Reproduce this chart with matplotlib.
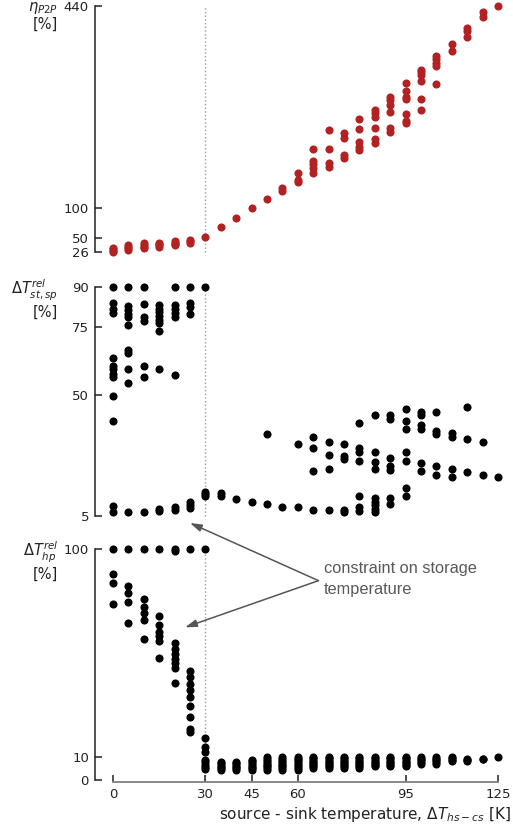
import matplotlib
matplotlib.use("Agg")
import matplotlib.pyplot as plt

# source - sink temperature difference [K]
delta_t = [0, 5, 10, 15, 20, 25, 30, 35, 40, 45, 50, 55, 60, 65, 70, 75, 80,
           85, 90, 95, 100, 105, 110, 115, 120, 125]

# power-to-power efficiency [%], one list of runs per temperature step
eta_p2p = [
    [26, 28.5, 31, 33.5],
    [30, 32.5, 35, 37],
    [32, 35, 38, 41],
    [34.5, 37, 39, 41],
    [37, 39.5, 42, 44],
    [42, 44, 46],
    [51],
    [67.5],
    [83.5],
    [100],
    [115.5],
    [129, 133],
    [143, 147, 159],
    [158.5, 167, 174, 180, 199.5],
    [169.5, 176.5, 199.5, 231.5],
    [183.5, 189.5, 218.5, 226],
    [197.5, 203, 210.5, 233.5, 249.5],
    [210, 215.5, 235, 254, 259.5, 265],
    [228.5, 234, 262, 273.5, 282, 287.5],
    [242.5, 246.5, 258.5, 283.5, 287.5, 297.5, 310],
    [265.5, 284, 313, 323.5, 329, 333],
    [308, 339, 344.5, 350.5, 356],
    [365, 376],
    [387, 398, 403.5],
    [421.5, 429.5],
    [440],
]

# relative storage temperature spread [%]
dt_st_sp = [
    [90, 84, 82, 80.5, 63.6, 60.8, 59.5, 57.8, 56.5, 49.5, 40.3, 8.5, 6.2],
    [90, 83, 81.5, 80, 78.7, 75.7, 66.6, 65.6, 59.5, 54.5, 6.3],
    [90, 83.7, 78.8, 77.4, 60.7, 56.4, 6.3],
    [83.2, 82, 80.6, 79.2, 77.9, 76.6, 73.8, 59.5, 6.6, 7.6],
    [90, 83.2, 81.8, 80.4, 79, 57.3, 7.2, 8.2],
    [90, 84, 82.7, 80, 7.8, 9, 10.2],
    [90, 12.3, 13.1, 13.9],
    [12.3, 13.3],
    [11.1],
    [10.1],
    [35.5, 9.2],
    [8.1],
    [31.5, 8.1],
    [34.4, 30.3, 21.5, 7.3],
    [32.3, 27.4, 22.4, 7.3],
    [31.5, 27.3, 26.1, 6.2, 7.1],
    [39.3, 30.3, 28.5, 25.4, 12.2, 8.4, 6.9],
    [42.4, 28.5, 24.8, 22.5, 11.5, 10.2, 9.0, 7.6, 6.5],
    [42.4, 41.1, 26.4, 23.3, 22.0, 11.5, 9.5],
    [44.5, 40.3, 37.3, 28.5, 25.4, 15.2, 12.2],
    [43.5, 42.3, 38.7, 37.4, 24.6, 21.6],
    [43.4, 36.5, 35.3, 23.3, 20.2],
    [35.6, 34.4, 22.4, 19.3],
    [45.5, 33.4, 21.4],
    [32.3, 20.2],
    [19.3],
]

# relative heat pump temperature lift [%]
dt_hp = [
    [100, 89.0, 85.1, 76.2],
    [100, 84.1, 81.1, 77.2, 68.1],
    [100, 78.2, 75.0, 72.2, 69.3, 61.0],
    [100, 71.1, 67.1, 64.2, 62.3, 60.3, 52.9],
    [100, 99, 59.2, 56.8, 54.6, 52.5, 50.6, 48.7, 41.9],
    [100, 47.3, 44.7, 41.5, 38.9, 36.1, 32.0, 27.1, 21.9, 20.9],
    [100, 18.0, 14.4, 12.0, 8.6, 7.6, 6.6, 5.6, 4.8],
    [4.3, 5.0, 5.8, 6.5, 7.2, 7.8],
    [4.3, 5.0, 5.8, 6.5, 7.2, 7.8],
    [4.3, 5.0, 5.8, 6.6, 7.4, 8.1, 8.8],
    [4.3, 5.1, 5.9, 6.7, 7.5, 8.3, 9.1, 9.9],
    [4.3, 5.1, 5.9, 6.7, 7.5, 8.3, 9.1, 9.9],
    [4.5, 5.3, 6.1, 6.9, 7.7, 8.5, 9.2, 9.9],
    [5.2, 5.9, 6.6, 7.3, 8.0, 8.7, 9.4, 10.0],
    [5.2, 5.9, 6.6, 7.3, 8.0, 8.7, 9.4, 10.0],
    [5.2, 5.9, 6.6, 7.3, 8.0, 8.7, 9.4, 10.0],
    [5.2, 5.9, 6.6, 7.3, 8.0, 8.7, 9.4, 10.0],
    [5.9, 6.6, 7.3, 8.0, 8.7, 9.4, 10.0],
    [5.9, 6.6, 7.3, 8.0, 8.7, 9.4, 10.0],
    [5.9, 6.6, 7.3, 8.0, 8.7, 9.4, 10.0],
    [7.1, 7.8, 8.5, 9.3, 10.0],
    [7.1, 7.8, 8.5, 9.3, 10.0],
    [8.1, 8.8, 9.5, 10.1],
    [8.1, 8.7, 9.3],
    [8.9, 9.3],
    [10.0],
]

x_ticks = [0, 30, 45, 60, 95, 125]
eta_ticks = [26, 50, 100, 440]
st_sp_ticks = [5, 50, 75, 90]
hp_ticks = [0, 10, 100]
x_limit = 30

W, H = 513, 836
fig = plt.figure(figsize=(W / 100, H / 100), dpi=100)


def add_panel(left, top, right, bottom):
    return fig.add_axes([left / W, 1 - bottom / H, (right - left) / W, (bottom - top) / H])


ax_eta = add_panel(94.5, 2.4, 504.2, 255.6)
ax_st = add_panel(94.5, 281.6, 504.2, 523.8)
ax_hp = add_panel(94.5, 544.4, 504.2, 782.3)


def flatten(cols):
    xs, ys = [], []
    for x, vals in zip(delta_t, cols):
        xs += [x] * len(vals)
        ys += vals
    return xs, ys


panels = [
    (ax_eta, eta_p2p, eta_ticks, (20, 446), "#b22222"),
    (ax_st, dt_st_sp, st_sp_ticks, (2, 92), "black"),
    (ax_hp, dt_hp, hp_ticks, (-1, 102), "black"),
]

for ax, cols, ticks, ylim, color in panels:
    xs, ys = flatten(cols)
    ax.scatter(xs, ys, s=34, color=color, linewidths=0, zorder=3, clip_on=False)
    ax.vlines(x_limit, ticks[0], ticks[-1], colors="#9a9a9a", linestyles=":", lw=1, zorder=1)
    ax.set_xlim(-6, 127)
    ax.set_ylim(*ylim)
    ax.set_yticks(ticks)
    ax.spines["left"].set_bounds(ticks[0], ticks[-1])
    ax.spines["left"].set_color("#222222")
    ax.spines["left"].set_linewidth(1.1)
    for side in ["top", "right"]:
        ax.spines[side].set_visible(False)
    ax.tick_params(axis="y", direction="in", length=5, width=1.1, labelsize=9.5,
                   colors="#222222", pad=4)
    ax.patch.set_alpha(0)

for ax in (ax_eta, ax_st):
    ax.spines["bottom"].set_visible(False)
    ax.set_xticks([])

ax_hp.set_xticks(x_ticks)
ax_hp.spines["bottom"].set_bounds(0, 125)
ax_hp.spines["bottom"].set_color("#808080")
ax_hp.spines["bottom"].set_linewidth(1.3)
ax_hp.tick_params(axis="x", direction="in", length=5, width=1.1, labelsize=9.5,
                  colors="#222222", pad=4)

# axis titles
lab = dict(ha="right", va="center", fontsize=10.5, color="#222222")
fig.text(58 / W, 1 - 8 / H, r"$\eta_{P2P}$", **lab)
fig.text(58 / W, 1 - 24 / H, "[%]", **lab)
fig.text(58 / W, 1 - 290 / H, r"$\Delta T^{rel}_{st,sp}$", **lab)
fig.text(58 / W, 1 - 312 / H, "[%]", **lab)
fig.text(58 / W, 1 - 552 / H, r"$\Delta T^{rel}_{hp}$", **lab)
fig.text(58 / W, 1 - 574 / H, "[%]", **lab)
fig.text(511 / W, 1 - 815 / H, r"source - sink temperature, $\Delta T_{hs-cs}$ [K]",
         ha="right", va="center", fontsize=11, color="#222222")

# annotation pointing at both storage-limited regions
arrow = dict(arrowstyle="-|>,head_length=0.7,head_width=0.22", color="#555555",
             lw=1.1, shrinkA=0, shrinkB=0)
ax_hp.annotate("", xy=(25.0, 2.3), xycoords=ax_st.transData,
               xytext=(66.7, 86.3), textcoords="data", arrowprops=arrow,
               annotation_clip=False)
ax_hp.annotate("", xy=(23.4, 66.1), xycoords="data",
               xytext=(66.7, 86.3), textcoords="data", arrowprops=arrow,
               annotation_clip=False)
ax_hp.text(68.5, 95.0, "constraint on storage\ntemperature", ha="left", va="top",
           fontsize=11.8, color="#595959", family="Liberation Sans", linespacing=1.55)

fig.savefig("out.png", dpi=100)
